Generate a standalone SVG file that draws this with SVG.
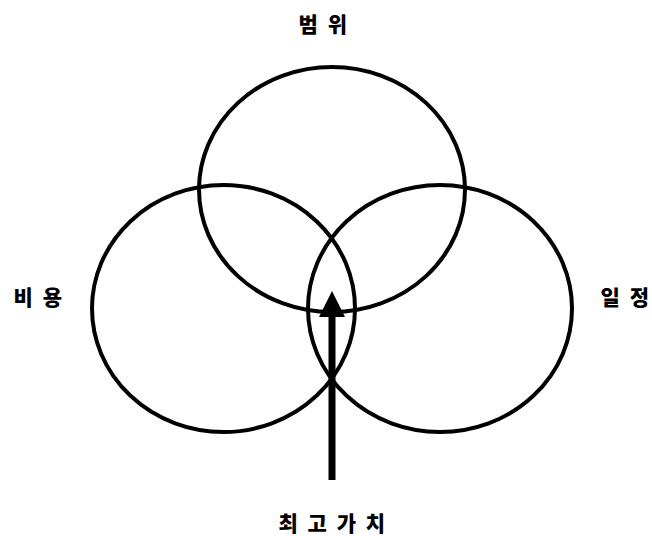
<svg xmlns="http://www.w3.org/2000/svg" width="652" height="536" viewBox="0 0 652 536">
<style>
.c{fill:none;stroke:#000;stroke-width:4}
.t{font-family:"Noto Sans CJK KR","Noto Sans",sans-serif;font-weight:900;font-size:21px;fill:#000;text-anchor:middle;letter-spacing:2.5px}
</style>
<rect width="652" height="536" fill="#fff"/>
<g id="scope"><ellipse class="c" cx="332" cy="189.5" rx="133" ry="122.5"/><text class="t" x="324" y="32">범 위</text></g>
<g id="cost"><ellipse class="c" cx="223.5" cy="308.5" rx="131.5" ry="123.5"/><text class="t" x="39" y="305">비 용</text></g>
<g id="schedule"><ellipse class="c" cx="440" cy="308.5" rx="132" ry="123.5"/><text class="t" x="626" y="305">일 정</text></g>
<g id="value"><text class="t" x="333" y="531">최 고 가 치</text></g>
<g id="connectors">
<line x1="332" y1="480" x2="332" y2="312" stroke="#000" stroke-width="7"/>
<polygon points="319,317 345,317 332,291" fill="#000"/>
</g>
</svg>
